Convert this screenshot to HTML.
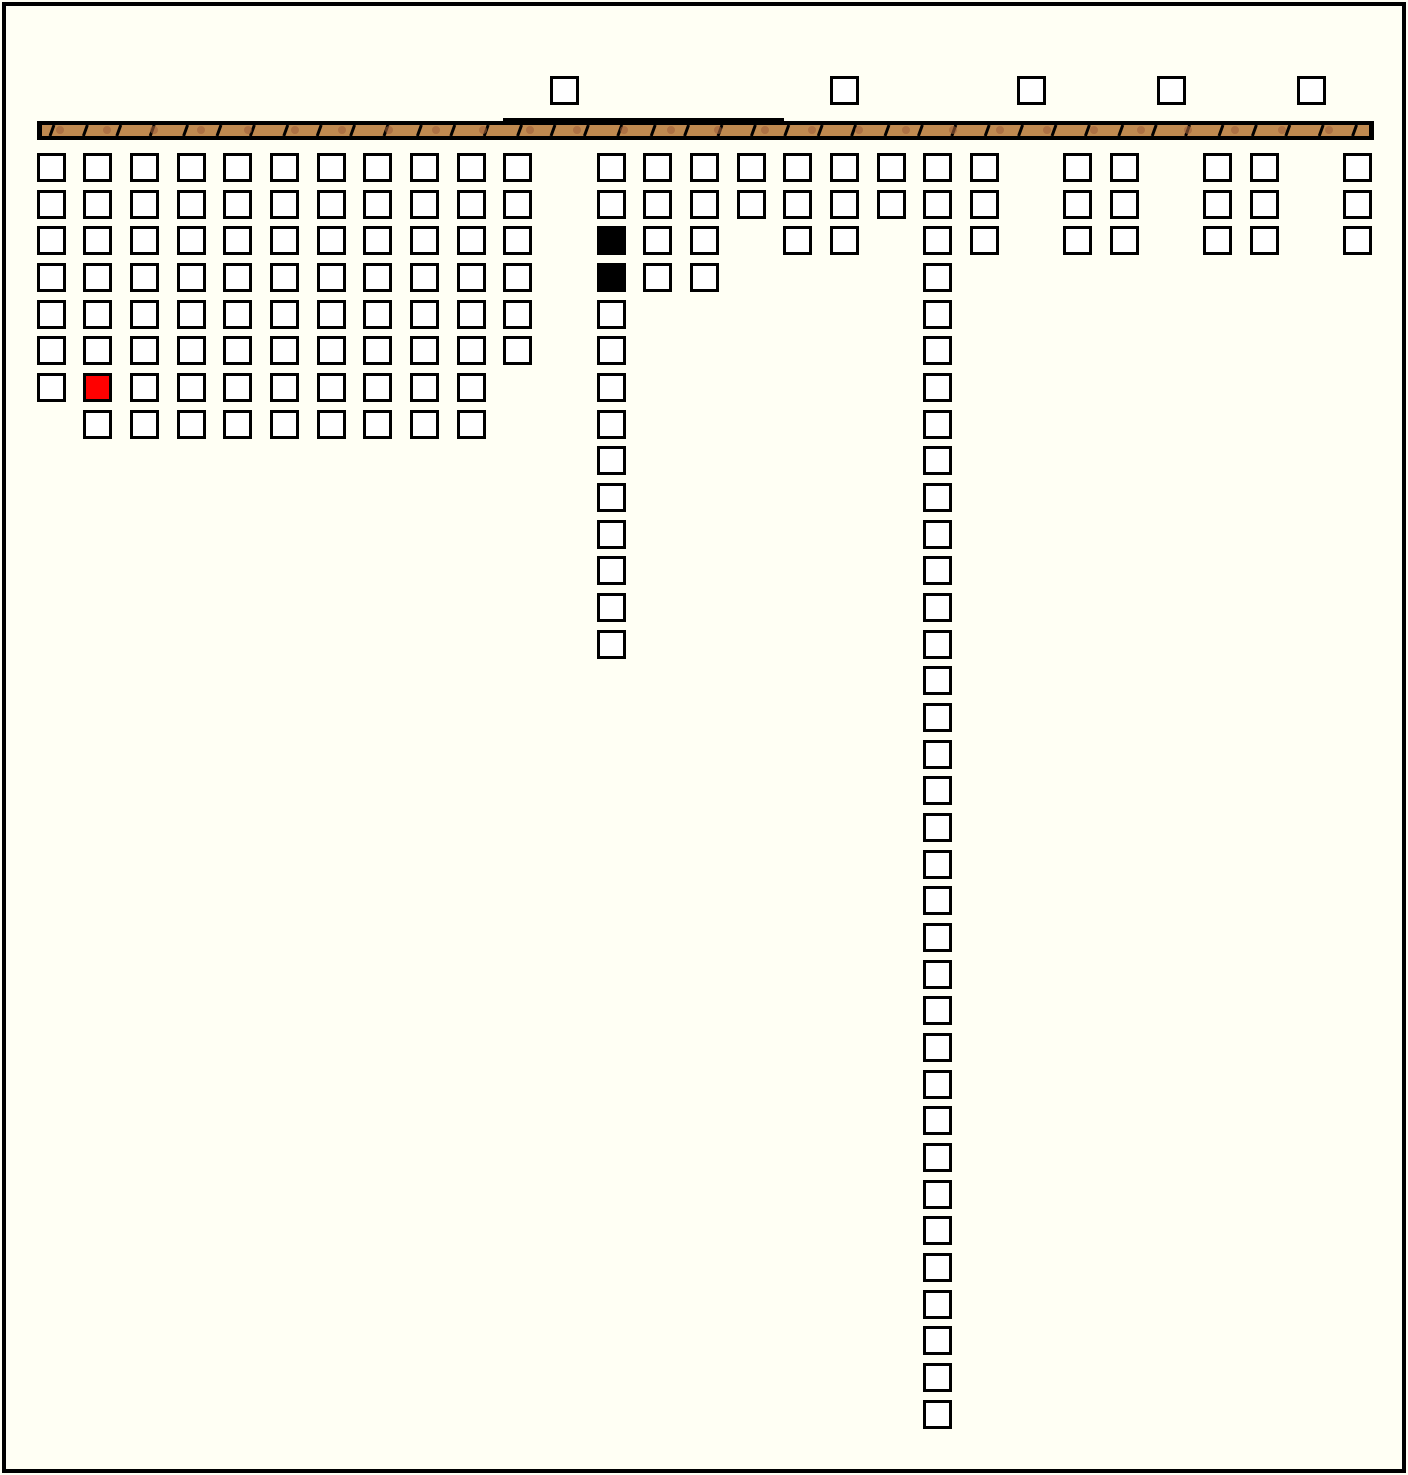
<!DOCTYPE html>
<html><head><meta charset="utf-8"><style>
html,body{margin:0;padding:0;background:#fffff4;}
svg{display:block}
</style></head><body>
<svg id="s" width="1408" height="1475" xmlns="http://www.w3.org/2000/svg">
<rect x="4" y="4" width="1400" height="1467" fill="#fffff4" stroke="#000" stroke-width="4"/>
<rect x="37" y="121" width="1337" height="19" fill="#000"/>
<rect x="503" y="118" width="281" height="6" fill="#000"/>
<rect x="42" y="125" width="1327" height="11" fill="#c08a50"/>
<g id="g"></g>
</svg>
<script>
var g=document.getElementById('g'),h='';
// bar ticks
for(var x=50;x<1370;x+=33.4){h+='<line x1="'+(x+4)+'" y1="125" x2="'+x+'" y2="136" stroke="#000" stroke-width="3"/>';}
for(var x=60;x<1370;x+=47){h+='<circle cx="'+x+'" cy="130" r="4" fill="#a0603a" opacity="0.6"/>';}
function sq(x,y,f){h+='<rect x="'+(x+1.5)+'" y="'+(y+1.5)+'" width="26" height="26" fill="'+(f||'#fff')+'" stroke="#000" stroke-width="3"/>';}
var cols=[[37,7],[83,8],[130,8],[177,8],[223,8],[270,8],[317,8],[363,8],[410,8],[457,8],[503,6],[597,14],[643,4],[690,4],[737,2],[783,3],[830,3],[877,2],[923,35],[970,3],[1063,3],[1110,3],[1203,3],[1250,3],[1343,3]];
cols.forEach(function(c){for(var r=0;r<c[1];r++){var y=153+r*36.67;var f=null;
 if(c[0]==83&&r==6)f='#f00';
 if(c[0]==597&&(r==2||r==3))f='#000';
 sq(c[0],Math.round(y),f);}});
[550,830,1017,1157,1297].forEach(function(x){sq(x,76);});
g.innerHTML=h;
</script>
</body></html>
